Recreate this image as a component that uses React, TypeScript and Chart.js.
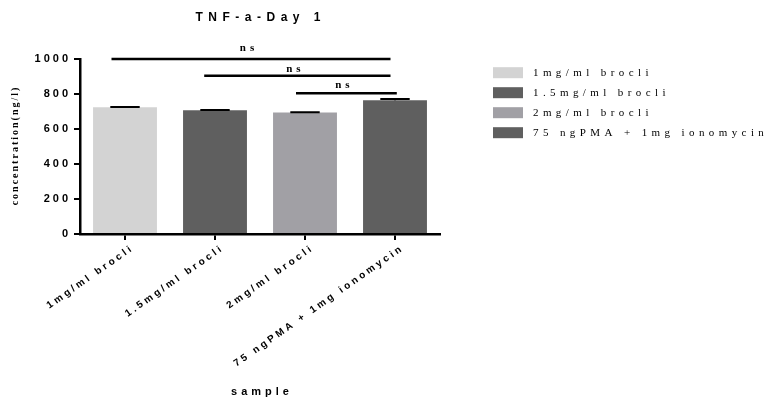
import React, { useEffect, useRef } from 'react';
import { Chart, registerables } from 'chart.js';

Chart.register(...registerables);

const chartTitle = 'TNF-a-Day 1';
const categories = ['1mg/ml brocli', '1.5mg/ml brocli', '2mg/ml brocli', '75 ngPMA + 1mg ionomycin'];
const means = [725, 707, 695, 765];
const errors = [1, 1, 1, 7];
const barColors = ['#d3d3d3', '#5f5f5f', '#a1a0a5', '#5f5f5f'];
const yTickValues = [0, 200, 400, 600, 800, 1000];
const yAxisTitle = 'concentration(ng/l)';
const xAxisTitle = 'sample';
// significance brackets (category index positions and value levels)
const sigFrom = [-0.15, 0.88, 1.9];
const sigTo = [2.95, 2.95, 3.02];
const sigLevel = [1000, 905, 805];
const sigLabelLevel = [1060, 940, 852];
const sigLabels = ['ns', 'ns', 'ns'];

const SANS = 'Arial, "Liberation Sans", sans-serif';
const SERIF = '"Times New Roman", "Liberation Serif", serif';

function spacedText(ctx: CanvasRenderingContext2D, text: string, x: number, y: number, spacing: number, align: CanvasTextAlign) {
  (ctx as any).letterSpacing = spacing + 'px';
  ctx.textAlign = align;
  let dx = 0;
  if (align === 'center') dx = spacing / 2;
  else if (align === 'right') dx = spacing;
  ctx.fillText(text, x + dx, y);
}

const spacingPlugin = {
  id: 'spacing',
  beforeLayout(chart: any) {
    chart.ctx.letterSpacing = '3px';
  },
  beforeDraw(chart: any) {
    chart.ctx.letterSpacing = '3px';
  },
};

const decorPlugin = {
  id: 'decor',
  afterDraw(chart: any) {
    const ctx: CanvasRenderingContext2D = chart.ctx;
    const xs = chart.scales.x;
    const ys = chart.scales.y;
    const area = chart.chartArea;
    ctx.save();
    ctx.fillStyle = '#000';
    ctx.strokeStyle = '#000';

    // error bars
    const meta = chart.getDatasetMeta(0);
    ctx.lineWidth = 2;
    means.forEach((m, i) => {
      const x = xs.getPixelForValue(i);
      const yTop = ys.getPixelForValue(m + errors[i]);
      const yMid = ys.getPixelForValue(m);
      const half = (meta.data[i].width || 64) * 0.23;
      ctx.beginPath();
      ctx.moveTo(x, yMid);
      ctx.lineTo(x, yTop);
      ctx.moveTo(x - half, yTop);
      ctx.lineTo(x + half, yTop);
      ctx.stroke();
    });

    // significance lines
    ctx.lineWidth = 2.5;
    ctx.textBaseline = 'middle';
    ctx.font = 'bold 11px ' + SERIF;
    sigLevel.forEach((lv, i) => {
      const x1 = xs.getPixelForValue(sigFrom[i]);
      const x2 = xs.getPixelForValue(sigTo[i]);
      const y = ys.getPixelForValue(lv);
      ctx.beginPath();
      ctx.moveTo(x1, y);
      ctx.lineTo(x2, y);
      ctx.stroke();
      spacedText(ctx, sigLabels[i], (x1 + x2) / 2 - 4, ys.getPixelForValue(sigLabelLevel[i]), 4, 'center');
    });

    // title
    ctx.font = 'bold 12px ' + SANS;
    spacedText(ctx, chartTitle, (area.left + area.right) / 2 - 2, 18, 5.5, 'center');

    // x axis title
    ctx.font = 'bold 11px ' + SANS;
    spacedText(ctx, xAxisTitle, (area.left + area.right) / 2, 392, 4, 'center');

    // y axis title
    ctx.save();
    ctx.translate(15, (area.top + area.bottom) / 2);
    ctx.rotate(-Math.PI / 2);
    ctx.font = 'bold 10px ' + SERIF;
    spacedText(ctx, yAxisTitle, 0, 0, 2, 'center');
    ctx.restore();

    // legend
    const lx = area.right + 53;
    ctx.font = '11px ' + SERIF;
    categories.forEach((c, i) => {
      const cy = 72.7 + i * 20;
      ctx.fillStyle = barColors[i];
      ctx.fillRect(lx, cy - 5.5, 30, 11);
      ctx.fillStyle = '#000';
      spacedText(ctx, c, lx + 40, cy + 0.5, 4.4, 'left');
    });
    ctx.restore();
  },
};

export default function App() {
  const canvasRef = useRef<HTMLCanvasElement | null>(null);

  useEffect(() => {
    const canvas = canvasRef.current;
    if (!canvas) return;
    const chart = new Chart(canvas, {
      type: 'bar',
      data: {
        labels: categories,
        datasets: [
          {
            label: 'concentration',
            data: means,
            backgroundColor: barColors,
            borderWidth: 0,
            categoryPercentage: 1,
            barPercentage: 0.71,
          },
        ],
      },
      options: {
        animation: false,
        responsive: false,
        maintainAspectRatio: false,
        layout: { padding: { top: 59, right: 333, bottom: 0, left: 0 } },
        plugins: {
          legend: { display: false },
          title: { display: false },
          tooltip: { enabled: false },
        },
        scales: {
          x: {
            offset: true,
            grid: {
              display: true,
              drawOnChartArea: false,
              drawTicks: true,
              tickLength: 6,
              offset: false,
              color: '#000',
              lineWidth: 2,
            },
            border: { display: true, color: '#000', width: 2.5 },
            ticks: {
              color: '#000',
              font: { family: SANS, size: 10, weight: 'bold' },
              minRotation: 35,
              maxRotation: 35,
              autoSkip: false,
              padding: 2,
              labelOffset: 8,
            },
            afterFit(scale: any) {
              scale.height = 164;
            },
          },
          y: {
            min: 0,
            max: 1000,
            afterBuildTicks(scale: any) {
              scale.ticks = yTickValues.map((v) => ({ value: v }));
            },
            grid: {
              display: true,
              drawOnChartArea: false,
              drawTicks: true,
              tickLength: 6,
              color: '#000',
              lineWidth: 2,
            },
            border: { display: true, color: '#000', width: 2.5 },
            ticks: {
              color: '#000',
              font: { family: SANS, size: 11, weight: 'bold' },
              padding: 3,
              callback: (v: any) => String(v),
            },
            afterFit(scale: any) {
              scale.width = 80;
            },
          },
        },
      },
      plugins: [spacingPlugin, decorPlugin],
    } as any);
    return () => chart.destroy();
  }, []);

  return (
    <div style={{ position: 'fixed', left: 0, top: 0, width: 773, height: 398, background: '#fff' }}>
      <canvas ref={canvasRef} width={773} height={398} style={{ width: 773, height: 398, display: 'block' }} />
    </div>
  );
}
